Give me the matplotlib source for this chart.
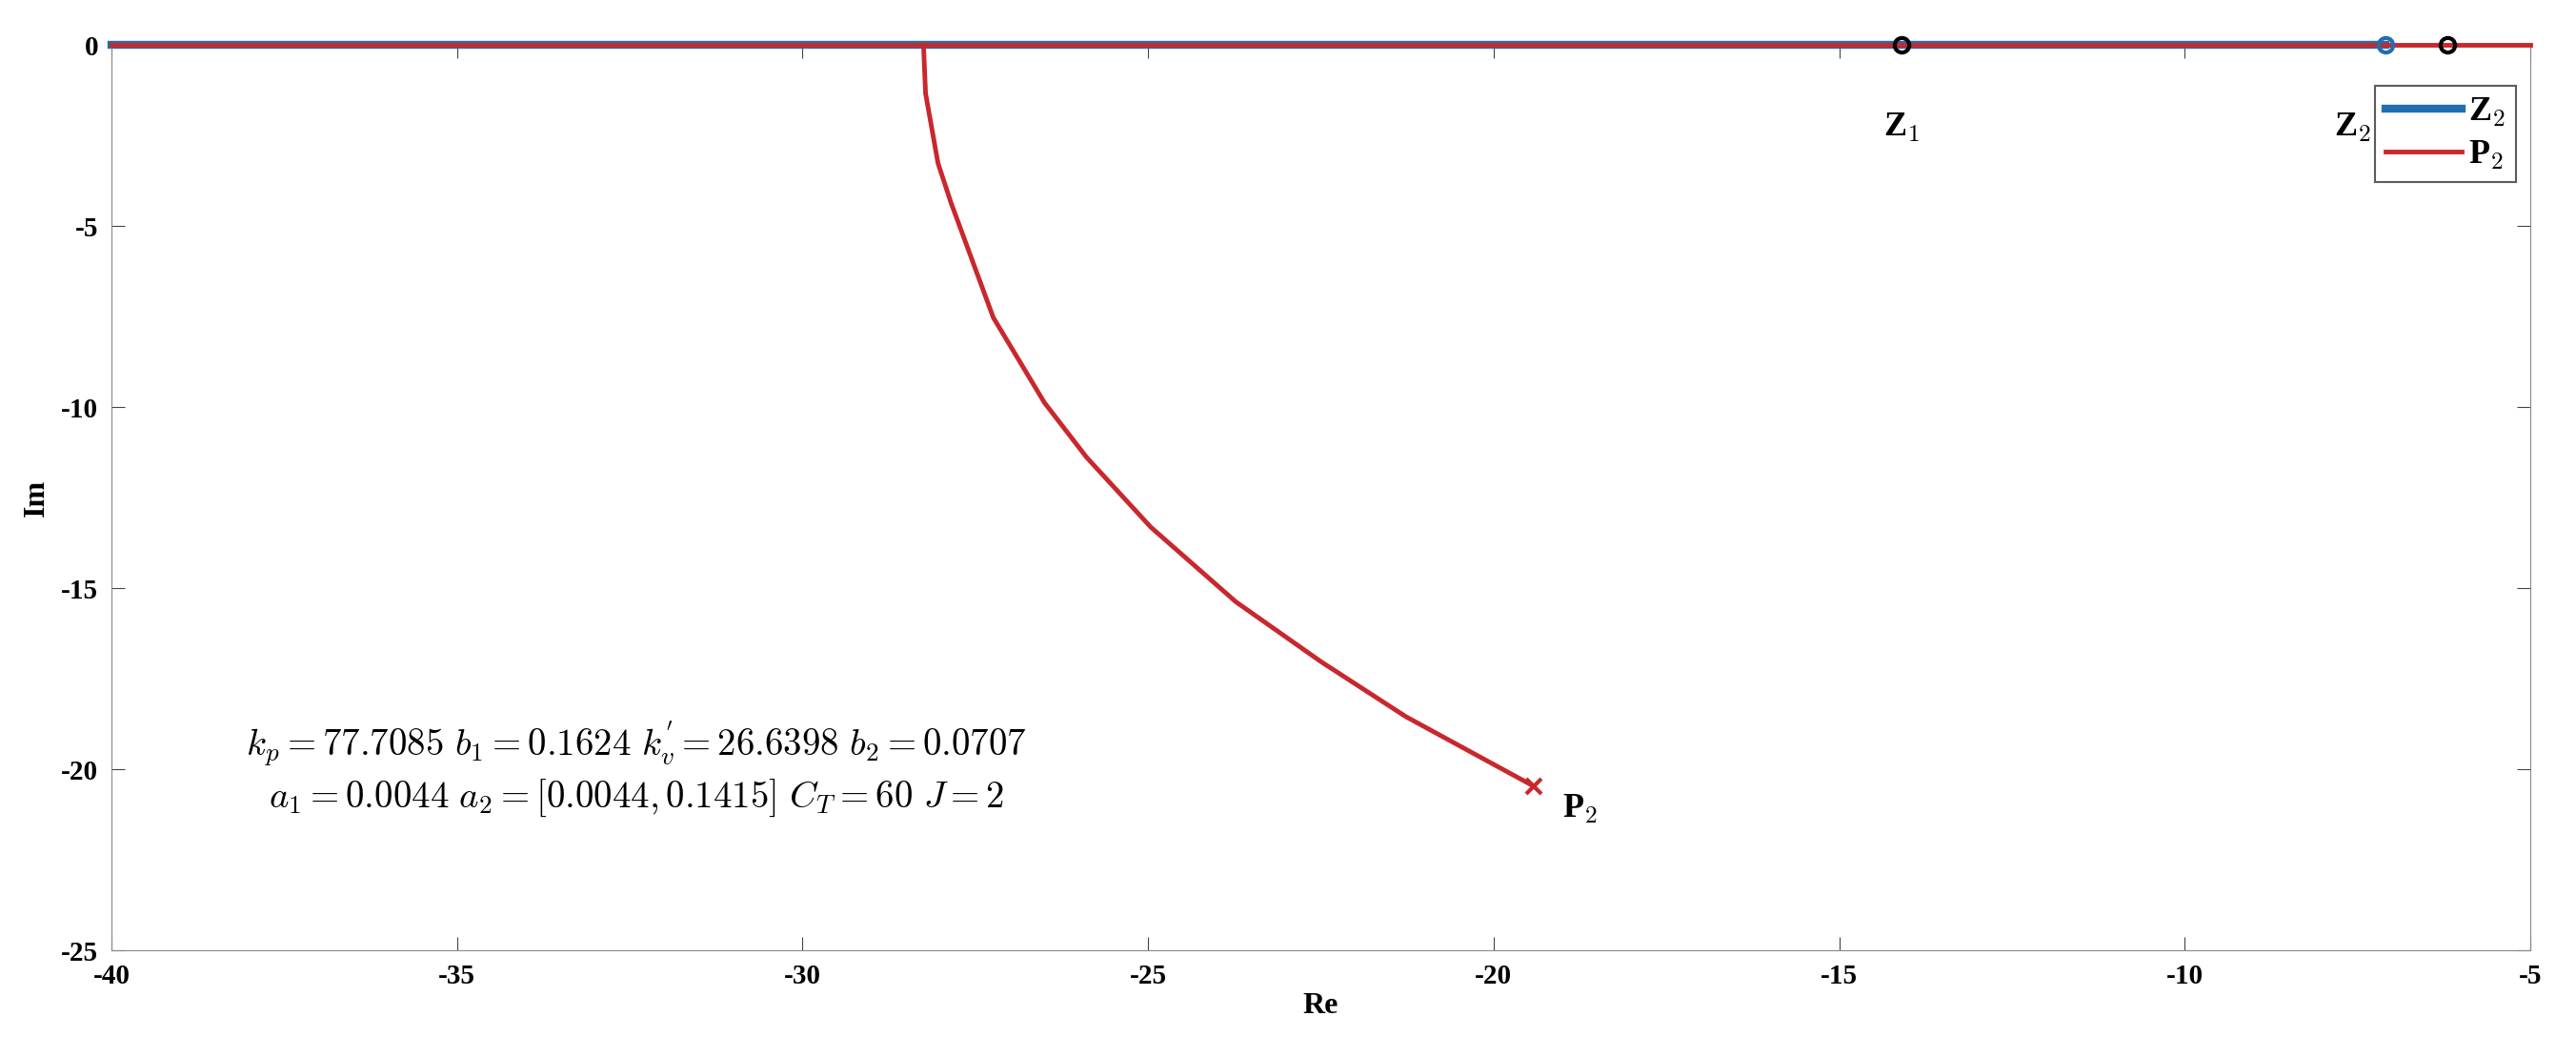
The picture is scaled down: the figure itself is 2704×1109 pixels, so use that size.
import matplotlib
matplotlib.use('Agg')
import matplotlib.pyplot as plt

plt.rcParams['font.family'] = 'Liberation Serif'
plt.rcParams['font.weight'] = 'bold'
plt.rcParams['mathtext.fontset'] = 'cm'
plt.rcParams['axes.unicode_minus'] = False

# real-axis branches
z2_re = [-40, -7.1]
p2_axis_re = [-40, -5]
# complex branch of P2
p2_re = [-28.25, -28.22, -28.04, -27.85, -27.24, -26.50, -25.89, -24.96, -23.73, -22.50, -21.27, -19.42]
p2_im = [0, -1.34, -3.27, -4.37, -7.53, -9.88, -11.39, -13.32, -15.38, -17.03, -18.55, -20.47]
zeros_black = [-14.1, -6.2]
zero_blue = -7.1
pole = (-19.42, -20.47)

fig = plt.figure(figsize=(27.04, 11.09), dpi=100)
ax = fig.add_axes([117/2704, 1 - 997/1109, (2656-117)/2704, (997-47)/1109])

ax.plot(z2_re, [0, 0], color='#1f6fb0', lw=6, label='Z$_2$', zorder=2, clip_on=False)
ax.plot(p2_axis_re, [0, 0], color='#c8282d', lw=3.5, label='P$_2$', zorder=3, clip_on=False)
ax.plot(p2_re, p2_im, color='#c8282d', lw=3.5, zorder=3, clip_on=False)
ax.plot(zeros_black, [0, 0], 'o', mfc='none', mec='black', mew=3, ms=11, zorder=5, clip_on=False)
ax.plot([zero_blue], [0], 'o', mfc='none', mec='#1f6fb0', mew=3, ms=11, zorder=5, clip_on=False)
ax.plot([pole[0]], [pole[1]], 'x', color='#c8282d', mew=3, ms=11, zorder=5)

ax.text(-14.1, -2.3, 'Z$_1$', fontsize=26, ha='center', va='center')
ax.text(-7.3, -2.3, 'Z$_2$', fontsize=26, ha='right', va='center')
ax.text(-19.0, -21.1, 'P$_2$', fontsize=26, ha='left', va='center')
ax.text(-32.4, -20.0, r"$k_p=77.7085\ b_1=0.1624\ k_v^{'}=26.6398\ b_2=0.0707$" + '\n'
        + r"$a_1=0.0044\ a_2=[0.0044,0.1415]\ C_T=60\ J=2$",
        fontsize=28, ha='center', va='center', linespacing=1.3)

ax.set_xlim(-40, -5)
ax.set_ylim(-25, 0)
ax.set_xticks(range(-40, -4, 5))
ax.set_yticks(range(-25, 1, 5))
ax.tick_params(labelsize=21, direction='in', length=10, top=True, right=True, color='#444444', pad=10)
for s in ax.spines.values():
    s.set_color('#888888')
ax.set_xlabel('Re', fontsize=23, fontweight='bold', labelpad=2)
ax.set_ylabel('Im', fontsize=23, fontweight='bold', labelpad=8)

leg = ax.legend(loc='upper right', bbox_to_anchor=(0.994, 0.955), fontsize=26, fancybox=False,
                edgecolor='#333333', handlelength=2.2, handletextpad=0.2, borderpad=0.3,
                borderaxespad=0, labelspacing=0.3)
leg.get_frame().set_linewidth(1.5)

fig.savefig('out.png', dpi=100)
